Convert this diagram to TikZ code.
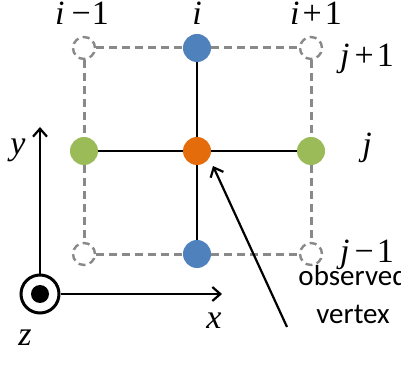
\documentclass[tikz,border=0pt]{standalone}
\usepackage{fontspec}
\setmainfont{Liberation Serif}
\newfontfamily\calfont{Carlito}
\usetikzlibrary{arrows.meta}
\definecolor{vblue}{HTML}{4F81BD}
\definecolor{vgreen}{HTML}{9BBB59}
\definecolor{vorange}{HTML}{E46C0A}
\definecolor{vgray}{HTML}{898989}
\begin{document}
\begin{tikzpicture}[x=1pt,y=-1pt,
  fillv/.style={circle,minimum size=28pt,inner sep=0pt,draw=none},
  ghost/.style={circle,minimum size=22pt,inner sep=0pt,draw=vgray,line width=2.4pt,dash pattern=on 7pt off 4.5pt,fill=white},
  grayline/.style={vgray,line width=3pt,dash pattern=on 8pt off 5pt},
  blk/.style={black,line width=1.8pt},
  arr/.style={black,line width=2.2pt,-{Straight Barb[length=8pt,width=14pt,line width=2.2pt]}},
  lab/.style={font=\fontsize{34}{40}\selectfont,inner sep=0pt,anchor=base,text height=0.68em,text depth=0.2em},
]
\useasboundingbox (0,0) rectangle (401,371);
\clip (0,0) rectangle (401,371);
% grid vertices
\node[fillv,fill=vblue] (t) at (197,48) {};
\node[fillv,fill=vblue] (b) at (197,254) {};
\node[fillv,fill=vorange] (c) at (197,151) {};
\node[fillv,fill=vgreen] (l) at (84,151) {};
\node[fillv,fill=vgreen] (r) at (311,151) {};
\node[ghost] (tl) at (84,48) {};
\node[ghost] (tr) at (311,48) {};
\node[ghost] (bl) at (84,254) {};
\node[ghost] (br) at (311,254) {};
% dashed connections
\draw[grayline] (tl) -- (t);
\draw[grayline] (t) -- (tr);
\draw[grayline] (bl) -- (b);
\draw[grayline] (b) -- (br);
\draw[grayline] (tl) -- (l);
\draw[grayline] (l) -- (bl);
\draw[grayline] (tr) -- (r);
\draw[grayline] (r) -- (br);
% solid connections
\draw[blk] (t) -- (c);
\draw[blk] (c) -- (b);
\draw[blk] (l) -- (c);
\draw[blk] (c) -- (r);
% labels
\node[lab] (im) at (82,25) {\textit{i}\hspace{7pt}−\hspace{1pt}1};
\node[lab] (i0) at (197,25) {\textit{i}};
\node[lab] (ip) at (316,25) {\textit{i}\hspace{3pt}+\hspace{3pt}1};
\node[lab] (jp) at (367,67) {\textit{j}\hspace{5pt}+\hspace{3pt}1};
\node[lab] (j0) at (367,156) {\textit{j}};
\node[lab] (jm) at (367,262) {\textit{j}\hspace{5pt}−\hspace{3pt}1};
% axes
\node[circle,draw,line width=3pt,minimum size=38pt,inner sep=0pt] (o) at (40,294) {};
\node[circle,fill=black,minimum size=18pt,inner sep=0pt] (od) at (40,294) {};
\coordinate (ytip) at (40,127);
\coordinate (xtip) at (222,294);
\draw[arr] (o.north) -- (ytip);
\draw[arr] (o.east) -- (xtip);
\node[lab] (ylab) at (18,155) {\textit{y}};
\node[lab] (xlab) at (214,328) {\textit{x}};
\node[lab] (zlab) at (25,345) {\textit{z}};
% observed vertex
\coordinate (otail) at (287,327);
\coordinate (otip) at (213,166);
\draw[arr] (otail) -- (otip);
\node[font=\calfont\fontsize{29}{38}\selectfont,align=center,inner sep=0pt,anchor=base] (obs) at (353,323) {observed\\vertex};
\end{tikzpicture}
\end{document}
